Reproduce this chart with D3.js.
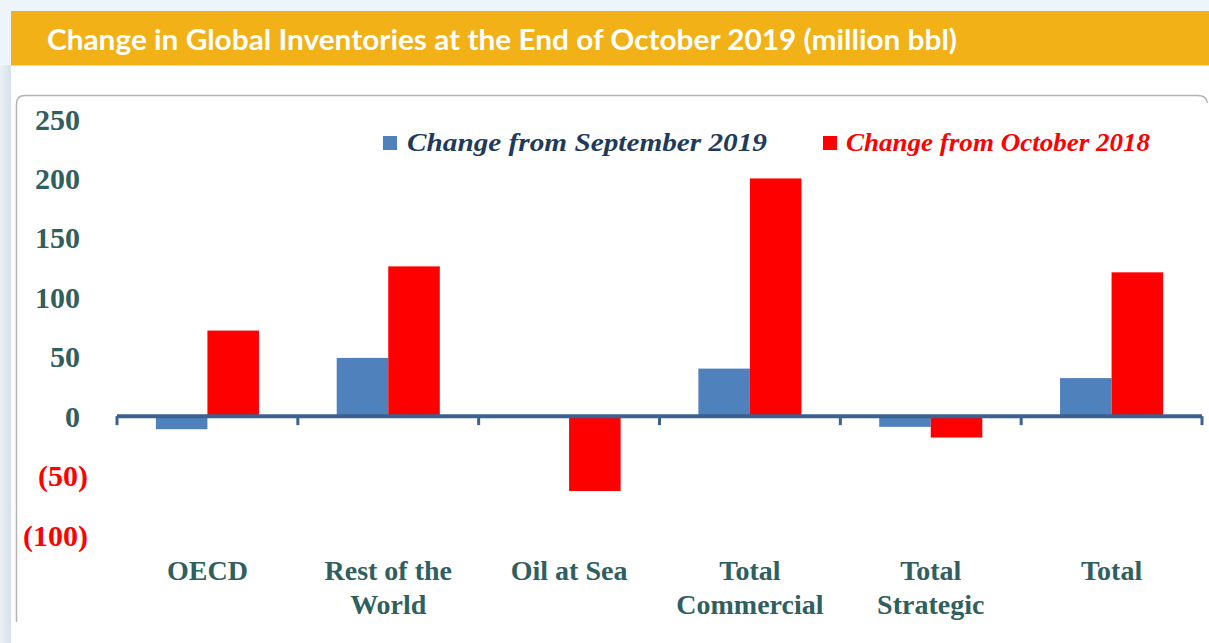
<!DOCTYPE html>
<html>
<head>
<meta charset="utf-8">
<script src="https://cdn.jsdelivr.net/npm/d3@7"></script>
<style>
  html, body { margin: 0; padding: 0; background: #EDF4FB; }
  svg { display: block; }
</style>
</head>
<body>
<svg id="chart" width="1209" height="643"></svg>
<script>
// ---- data ----
const categories = [["OECD"], ["Rest of the", "World"], ["Oil at Sea"], ["Total", "Commercial"], ["Total", "Strategic"], ["Total"]];
const seriesNames = ["Change from September 2019", "Change from October 2018"];
const changeFromSep2019 = [-11, 49, 0, 40, -9, 32];
const changeFromOct2018 = [72, 126, -63, 200, -18, 121];
const yTicks = [250, 200, 150, 100, 50, 0, -50, -100];
const titleText = "Change in Global Inventories at the End of October 2019 (million bbl)";

const svg = d3.select("#chart");
const W = 1209, H = 643;

// ---- background ----
const defs = svg.append("defs");
const g1 = defs.append("linearGradient").attr("id", "leftShade").attr("x1", "0").attr("x2", "1");
g1.append("stop").attr("offset", "0").attr("stop-color", "#EAF1F8");
g1.append("stop").attr("offset", "1").attr("stop-color", "#D6E0EB");

svg.append("rect").attr("width", W).attr("height", H).attr("fill", "#EDF4FB");
svg.append("rect").attr("x", 0).attr("y", 65).attr("width", 11).attr("height", H - 65).attr("fill", "url(#leftShade)");
svg.append("rect").attr("x", 11).attr("y", 11).attr("width", W - 11).attr("height", H - 11).attr("fill", "#FFFFFF");
svg.append("rect").attr("x", 11).attr("y", 11).attr("width", W - 11).attr("height", 54).attr("fill", "#F2B116");
svg.append("line").attr("x1", 11).attr("x2", W).attr("y1", 65.5).attr("y2", 65.5).attr("stroke", "#D8D8D8").attr("stroke-width", 1);

svg.append("text")
  .attr("x", 47).attr("y", 50)
  .attr("fill", "#FFFFFF")
  .style("font-family", "Lato, 'Open Sans', sans-serif")
  .style("font-weight", 700)
  .style("font-size", "28px")
  .attr("textLength", 910)
  .attr("lengthAdjust", "spacingAndGlyphs")
  .text(titleText);

// chart panel border (left + top, rounded)
svg.append("path")
  .attr("d", "M16.5,622 V104 Q16.5,95.5 25,95.5 H1198 Q1206.5,95.5 1207.5,103")
  .attr("fill", "none").attr("stroke", "#B4B4B4").attr("stroke-width", 1.5);

// ---- scales ----
const x0 = d3.scaleBand().domain(d3.range(categories.length)).range([117, 1202]).padding(0);
const bw = x0.bandwidth();
const x1 = d3.scaleBand().domain([0, 1]).range([bw * 0.215, bw * 0.785]).padding(0);
const y = d3.scaleLinear().domain([-100, 250]).range([535, 119]);

const serifFont = "'Liberation Serif', 'Times New Roman', serif";
const axisColor = "#2F5F5F";
const seriesColors = ["#4F81BD", "#FF0000"];

// ---- y labels ----
const yl = svg.append("g");
yl.selectAll("text").data(yTicks).join("text")
  .attr("x", d => d < 0 ? 88 : 80)
  .attr("y", d => y(d))
  .attr("dy", "0.35em")
  .attr("text-anchor", "end")
  .attr("fill", d => d < 0 ? "#FF0000" : axisColor)
  .style("font-family", serifFont)
  .style("font-weight", 700)
  .style("font-size", "30px")
  .text(d => d < 0 ? "(" + Math.abs(d) + ")" : d);

// ---- bars ----
const rows = categories.map((c, i) => ({ i, vals: [changeFromSep2019[i], changeFromOct2018[i]] }));
const groups = svg.append("g").selectAll("g").data(rows).join("g")
  .attr("transform", d => `translate(${x0(d.i)},0)`);
groups.selectAll("rect").data(d => d.vals.map((v, s) => ({ v, s }))).join("rect")
  .attr("x", d => x1(d.s))
  .attr("width", x1.bandwidth())
  .attr("y", d => Math.min(y(d.v), y(0)))
  .attr("height", d => Math.abs(y(d.v) - y(0)))
  .attr("fill", d => seriesColors[d.s]);

// ---- x axis ----
const xAxisG = svg.append("g");
xAxisG.append("line")
  .attr("x1", x0.range()[0]).attr("x2", x0.range()[1])
  .attr("y1", y(0)).attr("y2", y(0))
  .attr("stroke", "#3A6291").attr("stroke-width", 4);
const tickPos = d3.range(categories.length + 1).map(i => i < categories.length ? x0(i) : x0.range()[1]);
xAxisG.selectAll("line.tick").data(tickPos).join("line")
  .attr("class", "tick")
  .attr("x1", d => d).attr("x2", d => d)
  .attr("y1", y(0)).attr("y2", y(0) + 9)
  .attr("stroke", "#3A6291").attr("stroke-width", 3);

const xl = svg.append("g");
xl.selectAll("text").data(categories.map((c, i) => ({ c, i }))).join("text")
  .attr("x", d => x0(d.i) + bw / 2)
  .attr("y", 580)
  .attr("text-anchor", "middle")
  .attr("fill", axisColor)
  .style("font-family", serifFont)
  .style("font-weight", 700)
  .style("font-size", "28px")
  .each(function(d) {
    d3.select(this).selectAll("tspan").data(d.c).join("tspan")
      .attr("x", x0(d.i) + bw / 2)
      .attr("dy", (t, k) => k === 0 ? 0 : 34)
      .text(t => t);
  });

// ---- legend ----
const legendItems = [
  { name: seriesNames[0], color: seriesColors[0], textColor: "#1F3B5C", sx: 383, tx: 407, tw: 360 },
  { name: seriesNames[1], color: seriesColors[1], textColor: "#FF0000", sx: 823, tx: 846, tw: 304 }
];
const lg = svg.append("g");
legendItems.forEach(it => {
  lg.append("rect").attr("x", it.sx).attr("y", 136).attr("width", 14).attr("height", 14).attr("fill", it.color);
  lg.append("text")
    .attr("x", it.tx).attr("y", 151)
    .attr("fill", it.textColor)
    .style("font-family", serifFont)
    .style("font-weight", 700)
    .style("font-style", "italic")
    .style("font-size", "26px")
    .attr("textLength", it.tw)
    .attr("lengthAdjust", "spacingAndGlyphs")
    .text(it.name);
});
</script>
</body>
</html>
